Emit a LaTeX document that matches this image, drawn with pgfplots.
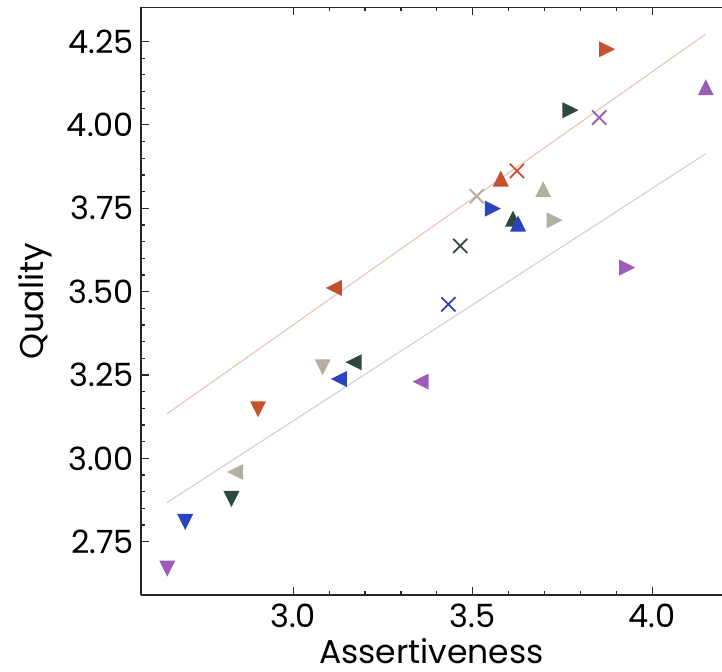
\documentclass[border=0pt]{standalone}
\usepackage{fontspec}
\setmainfont{Poppins}
\usepackage{pgfplots}
\pgfplotsset{compat=1.18}

\definecolor{cred}{HTML}{C8502F}
\definecolor{cgreen}{HTML}{2E4A3C}
\definecolor{cblue}{HTML}{2C43C0}
\definecolor{cpurple}{HTML}{9C5CB8}
\definecolor{cbeige}{HTML}{B5AEA3}
\definecolor{lred}{HTML}{EBC7BA}
\definecolor{lpurple}{HTML}{D6CDE8}

% matplotlib-style triangles (square bounding box, centred)
\pgfdeclareplotmark{tu}{\pgfpathmoveto{\pgfqpoint{0pt}{\pgfplotmarksize}}%
  \pgfpathlineto{\pgfqpoint{-\pgfplotmarksize}{-\pgfplotmarksize}}%
  \pgfpathlineto{\pgfqpoint{\pgfplotmarksize}{-\pgfplotmarksize}}\pgfpathclose\pgfusepathqfill}
\pgfdeclareplotmark{td}{\pgfpathmoveto{\pgfqpoint{0pt}{-\pgfplotmarksize}}%
  \pgfpathlineto{\pgfqpoint{-\pgfplotmarksize}{\pgfplotmarksize}}%
  \pgfpathlineto{\pgfqpoint{\pgfplotmarksize}{\pgfplotmarksize}}\pgfpathclose\pgfusepathqfill}
\pgfdeclareplotmark{tr}{\pgfpathmoveto{\pgfqpoint{\pgfplotmarksize}{0pt}}%
  \pgfpathlineto{\pgfqpoint{-\pgfplotmarksize}{\pgfplotmarksize}}%
  \pgfpathlineto{\pgfqpoint{-\pgfplotmarksize}{-\pgfplotmarksize}}\pgfpathclose\pgfusepathqfill}
\pgfdeclareplotmark{tl}{\pgfpathmoveto{\pgfqpoint{-\pgfplotmarksize}{0pt}}%
  \pgfpathlineto{\pgfqpoint{\pgfplotmarksize}{\pgfplotmarksize}}%
  \pgfpathlineto{\pgfqpoint{\pgfplotmarksize}{-\pgfplotmarksize}}\pgfpathclose\pgfusepathqfill}

\pgfplotsset{
  up/.style={only marks, mark=tu, mark size=4pt, color=#1},
  dn/.style={only marks, mark=td, mark size=4pt, color=#1},
  rt/.style={only marks, mark=tr, mark size=4pt, color=#1},
  lt/.style={only marks, mark=tl, mark size=4pt, color=#1},
  cr/.style={only marks, mark=x, mark size=5pt, line width=0.9pt, color=#1},
}

\begin{document}
\begin{tikzpicture}
\useasboundingbox (-70.5pt,-38pt) rectangle (290.5pt,297.5pt);
\begin{axis}[
  scale only axis,
  width=290.5pt,
  height=293.9pt,
  xmin=2.576, xmax=4.194,
  ymin=2.590, ymax=4.353,
  axis x line*=box,
  axis y line*=left,
  axis line style={black!85, line width=0.6pt},
  tick align=inside,
  tick style={black!85, line width=0.6pt},
  major tick length=4pt,
  minor tick length=2pt,
  xtick={3.0,3.5,4.0},
  ytick={2.75,3.00,3.25,3.50,3.75,4.00,4.25},
  minor x tick num=4,
  minor y tick num=4,
  xticklabel style={/pgf/number format/fixed, /pgf/number format/fixed zerofill, /pgf/number format/precision=1, yshift=-1pt},
  yticklabel style={/pgf/number format/fixed, /pgf/number format/fixed zerofill, /pgf/number format/precision=2},
  /pgf/number format/assume math mode=true,
  ticklabel style={font=\fontsize{16}{18}\selectfont},
  label style={font=\fontsize{16.5}{19}\selectfont},
  xlabel={Assertiveness},
  ylabel={Quality},
  xlabel style={inner sep=0pt, text depth=0pt, yshift=-1.5pt},
  ylabel style={yshift=0.5pt},
  clip=false,
]
% fitted lines
\addplot[lred, line width=0.6pt] coordinates {(2.648,3.133) (4.148,4.272)};
\addplot[lpurple, line width=0.6pt] coordinates {(2.648,2.867) (4.148,3.913)};

% red
\addplot[rt=cred] coordinates {(3.874,4.227)};
\addplot[cr=cred] coordinates {(3.623,3.862)};
\addplot[up=cred] coordinates {(3.578,3.839)};
\addplot[lt=cred] coordinates {(3.113,3.511)};
\addplot[dn=cred] coordinates {(2.902,3.147)};
% dark green
\addplot[rt=cgreen] coordinates {(3.772,4.044)};
\addplot[up=cgreen] coordinates {(3.612,3.719)};
\addplot[cr=cgreen] coordinates {(3.465,3.637)};
\addplot[lt=cgreen] coordinates {(3.168,3.288)};
\addplot[dn=cgreen] coordinates {(2.828,2.878)};
% blue
\addplot[rt=cblue] coordinates {(3.556,3.749)};
\addplot[up=cblue] coordinates {(3.626,3.704)};
\addplot[cr=cblue] coordinates {(3.432,3.462)};
\addplot[lt=cblue] coordinates {(3.127,3.238)};
\addplot[dn=cblue] coordinates {(2.699,2.809)};
% purple
\addplot[up=cpurple] coordinates {(4.149,4.113)};
\addplot[cr=cpurple] coordinates {(3.852,4.022)};
\addplot[rt=cpurple] coordinates {(3.930,3.572)};
\addplot[lt=cpurple] coordinates {(3.355,3.230)};
\addplot[dn=cpurple] coordinates {(2.649,2.669)};
% beige
\addplot[cr=cbeige] coordinates {(3.511,3.786)};
\addplot[up=cbeige] coordinates {(3.696,3.807)};
\addplot[rt=cbeige] coordinates {(3.728,3.714)};
\addplot[dn=cbeige] coordinates {(3.082,3.273)};
\addplot[lt=cbeige] coordinates {(2.838,2.959)};
\end{axis}
\end{tikzpicture}
\end{document}
